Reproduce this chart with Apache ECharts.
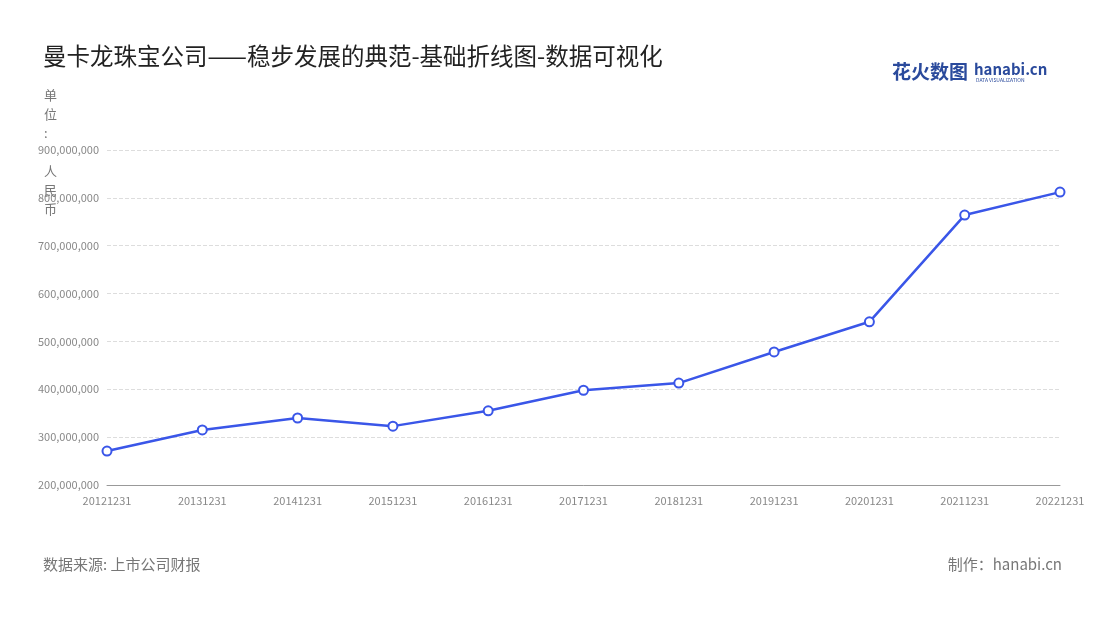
<!DOCTYPE html>
<html><head><meta charset="utf-8">
<script src="https://cdn.jsdelivr.net/npm/echarts@6/dist/echarts.min.js"></script>
<style>html,body{margin:0;padding:0;background:#fff}#c{width:1100px;height:620px}</style>
</head><body><div id="c"></div>
<script>
const categories=['20121231','20131231','20141231','20151231','20161231','20171231','20181231','20191231','20201231','20211231','20221231'];
const revenue=[271000000,315000000,340000000,323000000,355000000,398000000,413000000,478000000,541000000,764000000,812000000];
const chart=echarts.init(document.getElementById('c'));
const font='"Noto Sans CJK SC","Noto Sans",sans-serif';
chart.setOption({
  textStyle:{fontFamily:font},
  title:{text:'曼卡龙珠宝公司——稳步发展的典范-基础折线图-数据可视化',left:38,top:39,textStyle:{fontSize:23.5,fontWeight:'normal',color:'#222',fontFamily:font}},
  graphic:[
    {type:'text',left:892,top:62,style:{text:'花火数图',fontSize:19,fontWeight:'bold',fill:'#2a4a9c',fontFamily:font}},
    {type:'text',left:974,top:62,style:{text:'hanabi.cn',fontSize:15,fontWeight:'bold',fill:'#2a4a9c',fontFamily:font}},
    {type:'text',left:976,top:78,style:{text:'DATA VISUALIZATION',fontSize:5,fill:'#2a4a9c',fontFamily:font}},
    {type:'text',left:44,top:86,style:{text:'单\n位\n:\n \n人\n民\n币',fontSize:13,lineHeight:19,fill:'#777',fontFamily:font}},
    {type:'text',left:43,top:557,style:{text:'数据来源: 上市公司财报',fontSize:15,fill:'#777',fontFamily:font}},
    {type:'text',right:38,top:557,style:{text:'制作：hanabi.cn',fontSize:15,fill:'#777',fontFamily:font}}
  ],
  grid:{left:107,right:40,top:150,bottom:135},
  xAxis:{type:'category',data:categories,boundaryGap:false,
    axisLine:{lineStyle:{color:'#999'}},axisTick:{show:false},
    axisLabel:{color:'#888',fontSize:11,margin:10}},
  yAxis:{type:'value',min:200000000,max:900000000,interval:100000000,
    axisLine:{show:false},axisTick:{show:false},
    splitLine:{lineStyle:{type:'dashed',color:'#ddd'}},
    axisLabel:{color:'#888',fontSize:11,formatter:v=>v.toLocaleString('en-US')}},
  series:[{type:'line',data:revenue,symbol:'circle',symbolSize:9,
    lineStyle:{color:'#3a56e8',width:2.5},
    itemStyle:{color:'#fff',borderColor:'#3a56e8',borderWidth:2}}]
});
</script></body></html>
